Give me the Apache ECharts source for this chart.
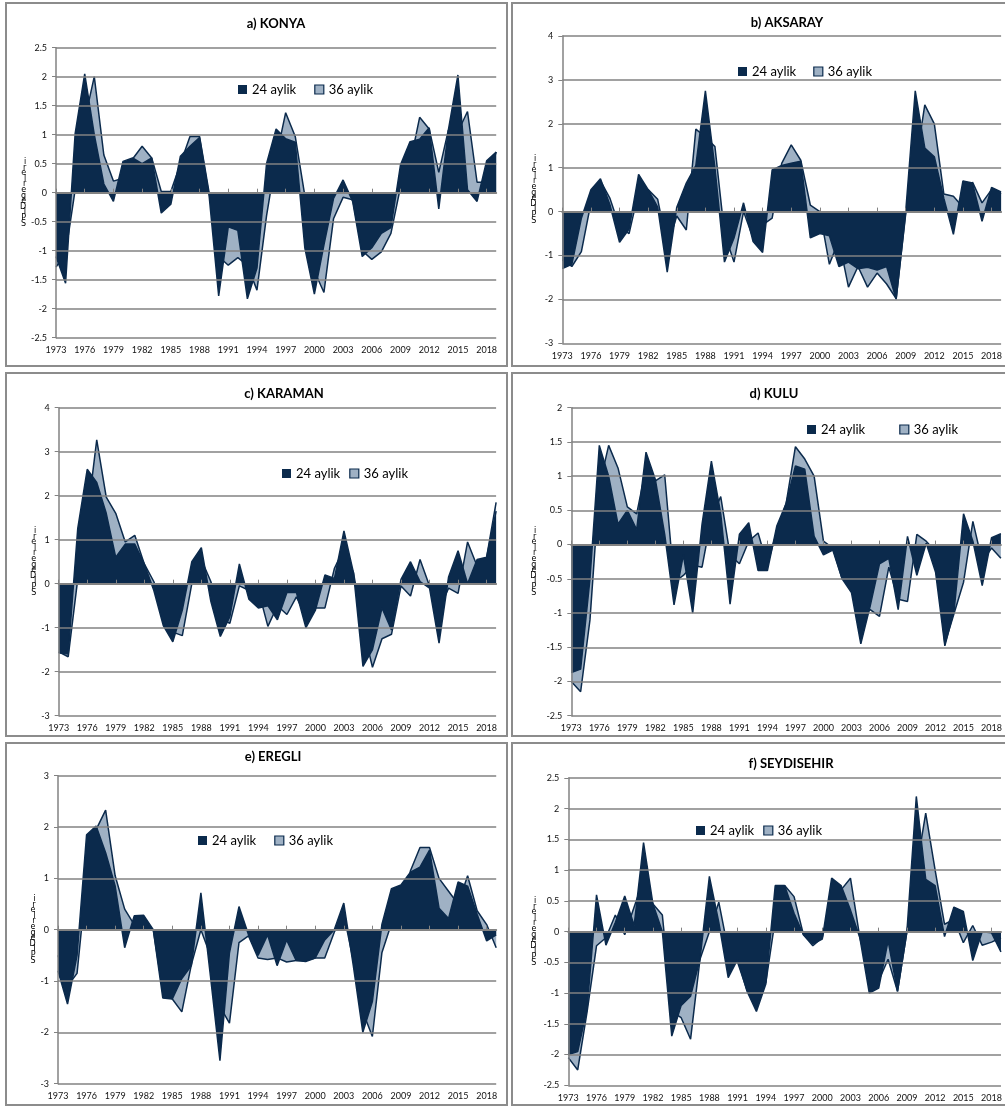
<!DOCTYPE html>
<html><head><meta charset="utf-8">
<script src="https://cdn.jsdelivr.net/npm/echarts@6/dist/echarts.min.js"></script>
<style>html,body{margin:0;padding:0;background:#fff}#c{width:1005px;height:1108px}</style>
</head><body><div id="c"></div>
<script>
// ---------- DATA ----------
const years = ['1973','1974','1975','1976','1977','1978','1979','1980','1981','1982',
 '1983','1984','1985','1986','1987','1988','1989','1990','1991','1992',
 '1993','1994','1995','1996','1997','1998','1999','2000','2001','2002',
 '2003','2004','2005','2006','2007','2008','2009','2010','2011','2012',
 '2013','2014','2015','2016','2017','2018','2019'];
const seriesNames = ['24 aylik', '36 aylik'];
const panelTitles = ['a) KONYA','b) AKSARAY','c) KARAMAN','d) KULU','e) EREGLI','f) SEYDISEHIR'];
const yAxisTitle = 'SPI Değerleri';

const konya24 = [-1.1,-1.56,1.02,2.05,1.0,0.15,-0.15,0.54,0.6,0.5,
 0.6,-0.35,-0.2,0.63,0.8,0.95,-0.05,-1.78,-0.59,-0.65,
 -1.83,-1.3,0.5,1.1,0.93,0.87,-0.95,-1.75,-0.9,-0.1,
 0.22,-0.15,-1.1,-0.95,-0.7,-0.6,0.48,0.88,0.92,1.12,
 -0.28,1.08,2.03,0.05,-0.15,0.55,0.7];
const konya36 = [-1.28,-1.05,0.05,1.25,2.0,0.65,0.2,0.25,0.58,0.8,
 0.6,0.02,0.02,0.5,0.97,0.97,0.0,-1.1,-1.25,-1.12,
 -1.25,-1.68,-0.4,0.6,1.38,0.97,-0.05,-1.35,-1.72,-0.45,
 -0.08,-0.12,-1.0,-1.15,-1.02,-0.7,0.1,0.5,1.3,1.1,
 0.35,1.08,1.05,1.4,0.18,0.18,0.7];

const aksaray24 = [-1.3,-1.2,-0.15,0.5,0.75,0.15,-0.7,-0.4,0.85,0.5,
 0.1,-1.38,0.1,0.65,1.05,2.75,1.0,-1.15,-0.6,0.2,
 -0.68,-0.93,0.95,1.05,1.1,1.15,-0.6,-0.5,-0.55,-1.25,
 -1.15,-1.3,-1.27,-1.33,-1.25,-2.0,0.0,2.75,1.45,1.25,
 0.3,-0.52,0.7,0.65,-0.22,0.55,0.45];
const aksaray36 = [-1.1,-1.25,-0.91,0.2,0.7,0.3,-0.35,-0.5,0.45,0.5,
 0.28,-0.8,-0.1,-0.42,1.88,1.7,1.48,-0.5,-1.15,0.0,
 -0.6,-0.3,-0.15,1.1,1.52,1.17,0.15,0.0,-1.2,-0.65,
 -1.72,-1.25,-1.72,-1.4,-1.65,-1.98,-0.05,1.0,2.43,2.0,
 0.4,0.35,0.1,0.67,0.2,0.5,0.4];

const karaman24 = [-1.57,-1.6,1.25,2.6,2.3,1.6,0.6,0.9,0.9,0.45,
 -0.15,-0.95,-1.32,-0.6,0.5,0.82,-0.4,-1.2,-0.75,0.45,
 -0.35,-0.55,-0.5,-0.82,-0.2,-0.2,-1.0,-0.6,0.2,0.12,
 1.2,0.25,-1.88,-1.5,-0.55,-1.05,0.1,0.5,0.05,-0.1,
 -1.35,0.15,0.75,0.0,0.55,0.6,1.65];
const karaman36 = [-1.55,-1.66,0.1,1.5,3.27,1.97,1.6,0.95,1.1,0.45,
 0.05,-0.5,-1.1,-1.18,0.0,0.55,0.05,-0.8,-0.9,-0.05,
 -0.15,-0.15,-0.97,-0.5,-0.7,-0.3,-0.75,-0.55,-0.55,0.35,
 0.8,0.25,-1.0,-1.9,-1.25,-1.15,-0.05,-0.28,0.55,-0.05,
 -0.6,-0.1,-0.22,0.95,0.4,0.6,1.85];

const kulu24 = [-1.87,-1.82,-0.5,1.45,1.0,0.3,0.5,0.22,1.35,0.95,
 0.15,-0.88,-0.15,-1.0,0.3,1.22,0.45,-0.87,0.15,0.32,
 -0.38,-0.38,0.27,0.6,1.15,1.1,0.12,-0.15,-0.08,-0.5,
 -0.7,-1.45,-0.9,-0.28,-0.2,-0.95,0.12,-0.45,0.02,-0.4,
 -1.48,-0.95,0.45,0.05,-0.6,0.1,0.16];
const kulu36 = [-2.0,-2.15,-1.1,0.85,1.45,1.12,0.55,0.45,1.12,0.93,
 1.02,-0.55,-0.45,-0.3,-0.33,0.4,0.7,-0.15,-0.28,0.05,
 0.17,-0.3,0.2,0.6,1.43,1.25,1.0,0.05,-0.05,-0.5,
 -0.58,-1.1,-0.95,-1.05,-0.33,-0.8,-0.83,0.15,0.05,-0.1,
 -1.45,-1.0,-0.55,0.34,-0.25,-0.05,-0.2];

const eregli24 = [-0.8,-1.45,-0.5,1.85,2.02,1.5,0.85,-0.35,0.27,0.28,
 0.0,-1.33,-1.35,-0.95,-0.7,0.72,-0.9,-2.55,-0.45,0.45,
 -0.1,-0.5,-0.1,-0.7,-0.2,-0.6,-0.62,-0.55,-0.2,0.0,
 0.52,-0.7,-2.0,-1.4,0.1,0.8,0.87,1.12,1.22,1.55,
 0.42,0.22,0.93,0.85,0.3,-0.22,-0.1];
const eregli36 = [-0.5,-1.1,-0.85,1.0,1.95,2.33,1.05,0.4,0.1,0.05,
 0.0,-1.2,-1.35,-1.6,-0.68,0.0,-0.5,-1.5,-1.82,-0.25,
 -0.12,-0.55,-0.58,-0.55,-0.63,-0.6,-0.6,-0.55,-0.55,-0.05,
 0.3,-0.6,-1.6,-2.08,-0.45,0.12,0.1,1.15,1.6,1.6,
 1.0,0.75,0.5,1.05,0.37,0.1,-0.35];

const seydisehir24 = [-2.0,-1.95,-1.25,0.6,-0.22,0.15,0.58,0.1,1.45,0.45,
 0.0,-1.7,-1.2,-1.05,-0.45,0.9,0.15,-0.75,-0.45,-0.97,
 -1.3,-0.85,0.75,0.75,0.3,-0.05,-0.2,-0.12,0.87,0.75,
 0.35,-0.1,-1.0,-0.92,-0.15,-0.97,0.0,2.2,0.85,0.75,
 -0.08,0.4,0.33,-0.47,0.0,-0.02,-0.33];
const seydisehir36 = [-2.05,-2.25,-1.3,-0.23,-0.1,0.27,-0.05,0.4,0.85,0.45,
 0.27,-1.3,-1.4,-1.75,-0.45,0.0,0.48,-0.3,-0.5,-0.95,
 -0.95,-0.83,0.2,0.75,0.57,-0.05,-0.23,-0.1,0.55,0.68,
 0.87,-0.1,-0.7,-0.8,-0.45,-0.97,0.0,1.0,1.93,1.0,
 0.12,0.2,-0.18,0.1,-0.22,-0.17,-0.1];

const yMins = [-2.5,-3,-3,-2.5,-3,-2.5];
const yMaxs = [2.5,4,4,2,3,2.5];
const ySteps = [0.5,1,1,0.5,1,0.5];
const values24 = [konya24, aksaray24, karaman24, kulu24, eregli24, seydisehir24];
const values36 = [konya36, aksaray36, karaman36, kulu36, eregli36, seydisehir36];

// ---------- LAYOUT / STYLE ----------
const DARK = '#0b2a4c';
const LIGHT = '#9fb1c4';
const GRIDC = '#828282';
const FONT = 'Lato';
const layout = [
  {grid:{left:56,top:47.7,width:440.2,height:290},   box:[6,3,501,363],  tx:276, ty:17,  lx:238, ly:83,  gap:18, ng:20},
  {grid:{left:562.3,top:36,width:438.9,height:307.3},box:[512,3,500,363],tx:787, ty:16,  lx:738, ly:65,  gap:17, ng:26},
  {grid:{left:58.7,top:407.7,width:437.4,height:308},box:[6,373,501,363],tx:284, ty:387, lx:282, ly:467, gap:9,  ng:22},
  {grid:{left:571.3,top:407.7,width:429.7,height:308},box:[512,373,500,363],tx:774,ty:387,lx:807, ly:423, gap:34, ng:35},
  {grid:{left:58,top:775.7,width:438.2,height:308},  box:[6,743,501,362],tx:273, ty:750, lx:198, ly:834, gap:18, ng:21},
  {grid:{left:568.3,top:778,width:432.7,height:307.3},box:[512,743,500,362],tx:791,ty:757,lx:696, ly:824, gap:9,  ng:32}
];

const stackedName = yAxisTitle.replace(/ /g,'').split('').reverse().join('\n');

const option = {
  animation:false,
  backgroundColor:'#fff',
  title:[], legend:[], grid:[], xAxis:[], yAxis:[], series:[],
  graphic:[]
};

layout.forEach((L, i) => {
  option.graphic.push({type:'rect', z:0, silent:true,
    shape:{x:L.box[0], y:L.box[1], width:L.box[2], height:L.box[3]},
    style:{fill:'none', stroke:'#8c8c8c', lineWidth:2}});
  option.title.push({text:panelTitles[i], left:L.tx, top:L.ty, textAlign:'center', padding:0,
    textStyle:{fontFamily:FONT, fontWeight:'bold', fontSize:13, color:'#000'}});
  option.legend.push({left:L.lx, top:L.ly, padding:0, itemGap:L.gap, itemWidth:9, itemHeight:9,
    icon:'rect', selectedMode:false,
    textStyle:{fontFamily:FONT, fontSize:13, color:'#000'},
    data:[{name:seriesNames[0], itemStyle:{color:DARK, borderWidth:0}},
          {name:seriesNames[1], itemStyle:{color:LIGHT, borderColor:DARK, borderWidth:1.2}}]});
  option.grid.push(Object.assign({containLabel:false}, L.grid));
  // category axis with labels at the bottom
  option.xAxis.push({type:'category', gridIndex:i, data:years, boundaryGap:false, position:'bottom', z:3,
    axisLine:{show:false, onZero:false}, axisTick:{show:false},
    axisLabel:{interval:2, margin:8, fontFamily:FONT, fontSize:9, color:'#111'},
    splitLine:{show:false}});
  // zero line with ticks
  option.xAxis.push({type:'category', gridIndex:i, data:years, boundaryGap:false, z:4,
    axisLine:{show:true, onZero:true, lineStyle:{color:GRIDC, width:2}},
    axisTick:{show:true, interval:2, length:4, lineStyle:{color:GRIDC, width:1}},
    axisLabel:{show:false}, splitLine:{show:false}});
  option.yAxis.push({type:'value', gridIndex:i, min:yMins[i], max:yMaxs[i], interval:ySteps[i], z:3,
    name:stackedName, nameLocation:'middle', nameRotate:0, nameGap:L.ng,
    nameTextStyle:{fontFamily:'DejaVu Sans', fontSize:8, lineHeight:5.6, color:'#000', padding:[0,0,24,0], align:'right'},
    axisLine:{show:true, lineStyle:{color:GRIDC, width:1.5}},
    axisTick:{show:true, length:4, lineStyle:{color:GRIDC, width:1}},
    axisLabel:{margin:9, fontFamily:FONT, fontSize:9, color:'#111'},
    splitLine:{show:true, lineStyle:{color:GRIDC, width:1.5}}});
  option.series.push({name:seriesNames[1], type:'line', xAxisIndex:2*i, yAxisIndex:i,
    data:values36[i], symbol:'none', z:1,
    lineStyle:{color:DARK, width:1.5}, itemStyle:{color:LIGHT},
    areaStyle:{color:LIGHT, opacity:1}});
  option.series.push({name:seriesNames[0], type:'line', xAxisIndex:2*i, yAxisIndex:i,
    data:values24[i], symbol:'none', z:2,
    lineStyle:{color:DARK, width:1.5}, itemStyle:{color:DARK},
    areaStyle:{color:DARK, opacity:1}});
});

const chart = echarts.init(document.getElementById('c'), null, {renderer:'canvas'});
chart.setOption(option);
</script>
</body></html>
